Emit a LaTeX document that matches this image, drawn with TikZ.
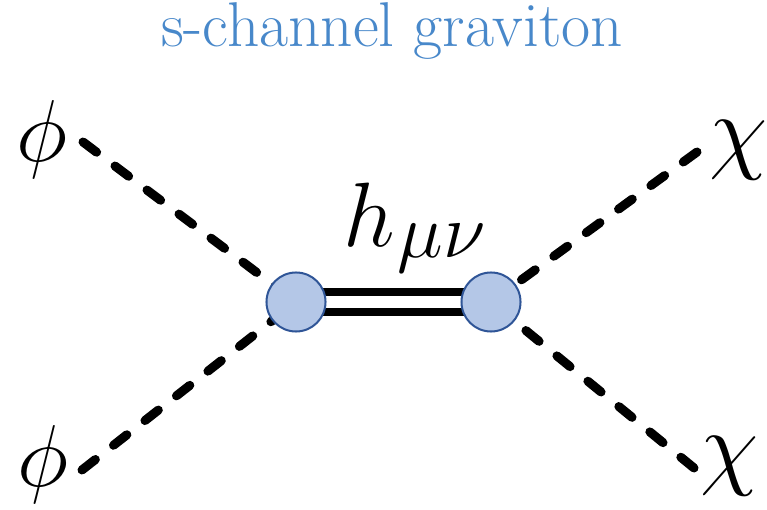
\RequirePackage{fix-cm}
\documentclass[tikz,border=0pt]{standalone}
\usepackage{amsmath}
\usepackage{xcolor}
\usetikzlibrary{backgrounds}
\definecolor{titleblue}{RGB}{72,136,202}
\definecolor{vertexfill}{RGB}{180,199,231}
\definecolor{vertexline}{RGB}{47,85,151}

\begin{document}
\begin{tikzpicture}[x=0.01cm,y=-0.01cm,
    every node/.style={font=\fontsize{25}{28}\selectfont},
    vertex/.style={circle,draw=vertexline,fill=vertexfill,line width=0.02cm,minimum size=0.59cm,inner sep=0pt},
    scalar/.style={line width=0.09cm,dash pattern=on 0.17cm off 0.23cm,line cap=round}]
    \useasboundingbox (0,0) rectangle (767,510);
    \node[text=titleblue,font=\fontsize{18}{20}\selectfont,anchor=base] (title) at (392,47) {s-channel graviton};
    \node[vertex] (vL) at (296,302) {};
    \node[vertex] (vR) at (491,302) {};
    \node (phiT) at (42,140) {$\phi$};
    \node (phiB) at (43,465) {$\phi$};
    \node[font=\fontsize{27}{30}\selectfont] (chiT) at (739,150) {$\chi$};
    \node[font=\fontsize{27}{30}\selectfont] (chiB) at (730,466) {$\chi$};
    \node[anchor=base west,font=\fontsize{26}{28}\selectfont] (hmn) at (331,247) {$h$\hspace{0.03cm}\raisebox{-0.11cm}{\fontsize{22}{24}\selectfont$\mu\nu$}};
    \coordinate (eTL) at (83,142);
    \coordinate (eBL) at (82,470);
    \coordinate (eTR) at (697,152);
    \coordinate (eBR) at (694,468);
    \begin{scope}[on background layer]
        \draw[scalar] (eTL) -- (vL.center);
        \draw[scalar] (eBL) -- (vL.center);
        \draw[scalar] (eTR) -- (vR.center);
        \draw[scalar] (eBR) -- (vR.center);
        \draw[line width=0.08cm,double,double distance=0.12cm] (vL.center) -- (vR.center);
    \end{scope}
\end{tikzpicture}
\end{document}
